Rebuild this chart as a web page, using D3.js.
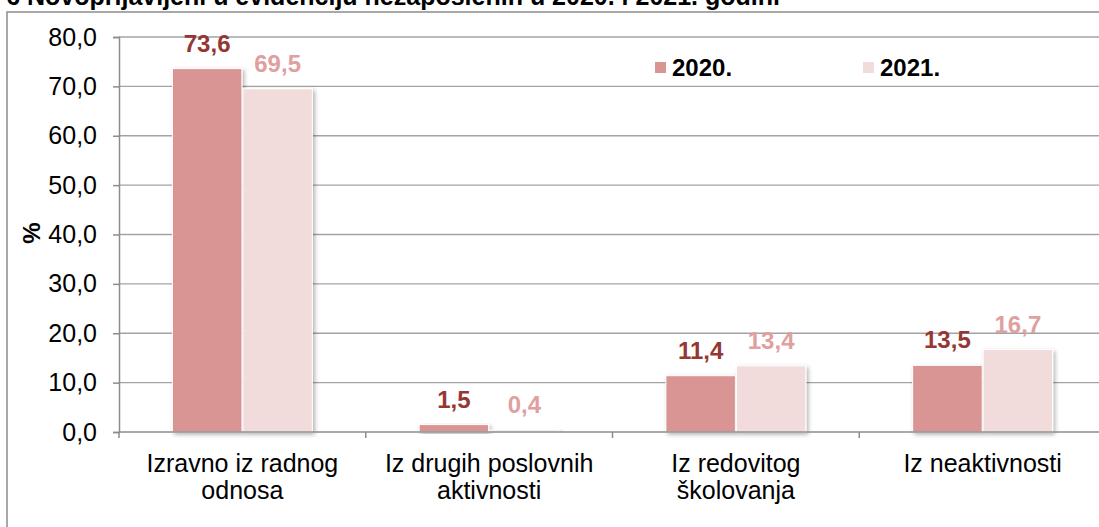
<!DOCTYPE html>
<html>
<head>
<meta charset="utf-8">
<script src="https://cdn.jsdelivr.net/npm/d3@7"></script>
<style>
  body { margin: 0; background: #fff; }
  svg { display: block; font-family: Arial, "Liberation Sans", sans-serif; }
</style>
</head>
<body>
<svg id="chart" width="1099" height="527"></svg>
<script>
// Chart data
const categories = ["Izravno iz radnog odnosa", "Iz drugih poslovnih aktivnosti", "Iz redovitog školovanja", "Iz neaktivnosti"];
const categoryLines = [["Izravno iz radnog", "odnosa"], ["Iz drugih poslovnih", "aktivnosti"], ["Iz redovitog", "školovanja"], ["Iz neaktivnosti"]];
const seriesNames = ["2020.", "2021."];
const values2020 = [73.6, 1.5, 11.4, 13.5];
const values2021 = [69.5, 0.4, 13.4, 16.7];
const yTicks = [0, 10, 20, 30, 40, 50, 60, 70, 80];
const titleText = "Grafikon 6 Novoprijavljeni u evidenciju nezaposlenih u 2020. i 2021. godini";

const barColors = ["#d99594", "#f2dcdb"];
const labelColors = ["#953735", "#e0a09f"];

const svg = d3.select("#chart");
const margin = { left: 119, right: 1106, top: 37, bottom: 432 };

// drop shadow for bars
const defs = svg.append("defs");
const f = defs.append("filter").attr("id", "shadow")
    .attr("x", "-10%").attr("y", "-10%").attr("width", "130%").attr("height", "130%");
f.append("feDropShadow").attr("dx", 2).attr("dy", 2).attr("stdDeviation", 2)
    .attr("flood-color", "#000").attr("flood-opacity", 0.3);

// outer frame + clipped title
svg.append("rect").attr("x", 7).attr("y", 12).attr("width", 1200).attr("height", 700)
    .attr("fill", "none").attr("stroke", "#8c8c8c").attr("stroke-width", 1.5);
svg.append("text").attr("x", 780).attr("y", 5).attr("text-anchor", "end")
    .style("font-size", "25px").style("font-weight", "bold").text(titleText);

// scales
const y = d3.scaleLinear().domain([0, 80]).range([margin.bottom, margin.top]);
const x0 = d3.scaleBand().domain(categories).range([margin.left, margin.right]).padding(0);
const groupWidth = 141;
const x1 = d3.scaleBand().domain(seriesNames).range([0, groupWidth]).padding(0);
const groupOffset = (x0.bandwidth() - groupWidth) / 2;

// gridlines
svg.append("g").selectAll("line").data(yTicks.filter(d => d > 0)).join("line")
    .attr("x1", margin.left).attr("x2", 1099)
    .attr("y1", d => y(d)).attr("y2", d => y(d))
    .attr("stroke", "#a3a3a3").attr("stroke-width", 1.3);

// y axis
const yAxis = svg.append("g").attr("transform", `translate(${margin.left},0)`)
    .call(d3.axisLeft(y).tickValues(yTicks).tickSize(6).tickPadding(16)
        .tickFormat(d => d.toFixed(1).replace(".", ",")));
yAxis.select(".domain").attr("stroke", "#8c8c8c").attr("stroke-width", 1.5);
yAxis.selectAll(".tick line").attr("stroke", "#8c8c8c").attr("stroke-width", 1.5);
yAxis.selectAll(".tick text").attr("fill", "#000").style("font-size", "25px")
    .style("font-family", "Arial, 'Liberation Sans', sans-serif");

svg.append("text").attr("transform", "translate(40,233) rotate(-90)")
    .attr("text-anchor", "middle").style("font-size", "24px").style("font-weight", "bold").text("%");

// bars
const rows = categories.map((c, i) => ({ cat: c, vals: [values2020[i], values2021[i]] }));
const groups = svg.append("g").selectAll("g").data(rows).join("g")
    .attr("transform", d => `translate(${x0(d.cat) + groupOffset},0)`);

groups.selectAll("rect").data(d => d.vals.map((v, k) => ({ s: seriesNames[k], v, k }))).join("rect")
    .attr("x", d => x1(d.s) + 0.5)
    .attr("width", x1.bandwidth() - 1)
    .attr("y", d => y(d.v))
    .attr("height", d => y(0) - y(d.v))
    .attr("fill", d => barColors[d.k])
    .attr("stroke", "#fff").attr("stroke-width", 1)
    .attr("filter", "url(#shadow)");

groups.selectAll("text").data(d => d.vals.map((v, k) => ({ s: seriesNames[k], v, k }))).join("text")
    .attr("x", d => x1(d.s) + x1.bandwidth() / 2)
    .attr("y", d => y(d.v) - 17)
    .attr("text-anchor", "middle")
    .attr("fill", d => labelColors[d.k])
    .style("font-size", "24px").style("font-weight", "bold")
    .text(d => d.v.toFixed(1).replace(".", ","));

// x axis
svg.append("line").attr("x1", margin.left).attr("x2", 1099)
    .attr("y1", y(0)).attr("y2", y(0)).attr("stroke", "#8c8c8c").attr("stroke-width", 1.5);
const xTickPos = categories.map(c => x0(c)).concat([x0.range()[1]]);
svg.append("g").selectAll("line").data(xTickPos).join("line")
    .attr("x1", d => d).attr("x2", d => d)
    .attr("y1", y(0)).attr("y2", y(0) + 6)
    .attr("stroke", "#8c8c8c").attr("stroke-width", 1.5);

const catLabels = svg.append("g").selectAll("text").data(categories).join("text")
    .attr("text-anchor", "middle").style("font-size", "25px").attr("fill", "#000");
catLabels.each(function (c, i) {
    const t = d3.select(this);
    categoryLines[i].forEach((line, j) => {
        t.append("tspan").attr("x", x0(c) + x0.bandwidth() / 2).attr("y", 472 + j * 27).text(line);
    });
});

// legend
const legendX = [655, 863];
const legend = svg.append("g").selectAll("g").data(seriesNames).join("g")
    .attr("transform", (d, i) => `translate(${legendX[i]},62)`);
legend.append("rect").attr("width", 11).attr("height", 11).attr("fill", (d, i) => barColors[i]);
legend.append("text").attr("x", 17).attr("y", 14)
    .style("font-size", "24px").style("font-weight", "bold").text(d => d);
</script>
</body>
</html>
